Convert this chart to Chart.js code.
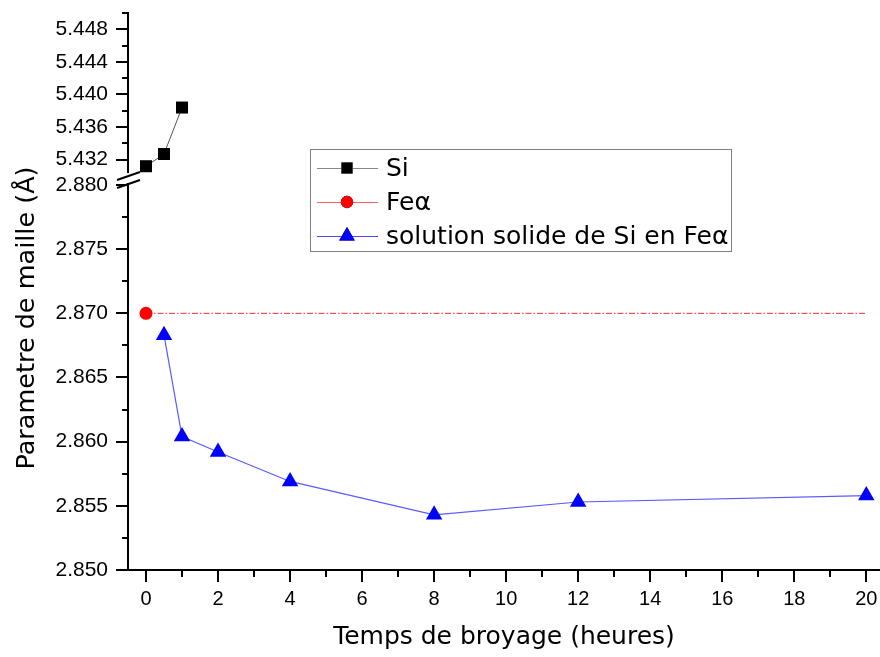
<!DOCTYPE html>
<html>
<head>
<meta charset="utf-8">
<script src="https://cdn.jsdelivr.net/npm/chart.js@4"></script>
<style>
  body { margin: 0; background: #fff; }
</style>
</head>
<body>
<canvas id="myChart" width="880" height="657"></canvas>
<script>
// temps de broyage (heures) et parametre de maille (A)
const siTime = [0, 0.5, 1];
const siParam = [5.4312, 5.4327, 5.4384];
const feTime = [0];
const feParam = [2.870];
const solTime = [0.5, 1, 2, 4, 8, 12, 20];
const solParam = [2.8683, 2.8604, 2.8592, 2.8569, 2.8543, 2.8553, 2.8558];
const refTime = [0, 20];
const refParam = [2.870, 2.870];

// ticks
const xTicks = [0, 2, 4, 6, 8, 10, 12, 14, 16, 18, 20];
const xMinor = [1, 3, 5, 7, 9, 11, 13, 15, 17, 19];
const yTopTicks = [5.432, 5.436, 5.440, 5.444, 5.448];
const yTopMinor = [5.434, 5.438, 5.442, 5.446, 5.450];
const yBotTicks = [2.850, 2.855, 2.860, 2.865, 2.870, 2.875, 2.880];
const yBotMinor = [2.8525, 2.8575, 2.8625, 2.8675, 2.8725, 2.8775];

const legendLabels = ['Si', 'Fe\u03b1', 'solution solide de Si en Fe\u03b1'];

const pts = (xs, ys) => xs.map((x, i) => ({x: x, y: ys[i]}));

// setup
const data = {
  datasets: [
    {
      label: legendLabels[0],
      data: pts(siTime, siParam),
      yAxisID: 'yTop',
      borderColor: '#555',
      borderWidth: 1,
      pointStyle: 'rect',
      pointRadius: 8.5,
      pointBackgroundColor: '#000',
      pointBorderWidth: 0,
      clip: false
    },
    {
      label: legendLabels[1],
      data: pts(feTime, feParam),
      yAxisID: 'yBot',
      borderColor: '#ff3030',
      pointStyle: 'circle',
      pointRadius: 6.5,
      pointBackgroundColor: '#ff0000',
      pointBorderWidth: 0,
      clip: false
    },
    {
      label: legendLabels[2],
      data: pts(solTime, solParam),
      yAxisID: 'yBot',
      borderColor: '#5a5aff',
      borderWidth: 1.2,
      pointStyle: 'triangle',
      pointRadius: 9.5,
      pointBackgroundColor: '#0000ff',
      pointBorderWidth: 0,
      clip: false
    },
    {
      label: 'ref',
      data: pts(refTime, refParam),
      yAxisID: 'yBot',
      borderColor: 'rgb(235,45,45)',
      borderWidth: 1,
      borderDash: [6, 2, 1.5, 2],
      pointRadius: 0,
      clip: false
    }
  ]
};

const tickFontY = {family: 'Liberation Sans', size: 21};
const tickFontX = {family: 'Liberation Sans', size: 20};

const noPad = (s) => { s.paddingLeft = 0; s.paddingRight = 0; s.paddingTop = 0; s.paddingBottom = 0; };

// draw tick marks, axis break, y title and legend box
const decorations = {
  id: 'decorations',
  afterDraw(chart) {
    const ctx = chart.ctx;
    const sx = chart.scales.x, st = chart.scales.yTop, sb = chart.scales.yBot;
    const ax = sx.top, ay = st.right;
    ctx.save();
    ctx.strokeStyle = '#000';
    ctx.lineWidth = 2;
    const tick = (x1, y1, x2, y2) => { ctx.beginPath(); ctx.moveTo(x1, y1); ctx.lineTo(x2, y2); ctx.stroke(); };
    xTicks.forEach(v => { const p = Math.round(sx.getPixelForValue(v)); tick(p, ax, p, ax + 12); });
    xMinor.forEach(v => { const p = Math.round(sx.getPixelForValue(v)); tick(p, ax, p, ax + 7); });
    yTopTicks.forEach(v => { const p = Math.round(st.getPixelForValue(v)); tick(ay, p, ay - 12, p); });
    yTopMinor.forEach(v => { const p = Math.round(st.getPixelForValue(v)); tick(ay, p, ay - 6, p); });
    yBotTicks.forEach(v => { const p = Math.round(sb.getPixelForValue(v)); tick(ay, p, ay - 12, p); });
    yBotMinor.forEach(v => { const p = Math.round(sb.getPixelForValue(v)); tick(ay, p, ay - 6, p); });

    // axis break
    const by = st.bottom;
    ctx.fillStyle = '#fff';
    ctx.fillRect(ay - 4, by - 3, 8, 10);
    ctx.lineWidth = 2;
    tick(ay - 11, by + 4, ay + 12, by - 4);
    tick(ay - 11, by + 12, ay + 12, by + 4);

    // y title
    ctx.fillStyle = '#000';
    ctx.font = '25.5px "DejaVu Sans"';
    ctx.textAlign = 'center';
    ctx.textBaseline = 'middle';
    ctx.translate(27, 318);
    ctx.rotate(-Math.PI / 2);
    ctx.fillText('Parametre de maille (\u00c5)', 0, 0);
    ctx.restore();

    // legend
    ctx.save();
    ctx.fillStyle = '#fff';
    ctx.fillRect(310, 149, 422, 103);
    ctx.strokeStyle = '#808080';
    ctx.lineWidth = 1;
    ctx.strokeRect(310.5, 149.5, 421, 102);
    const rows = [168, 202, 236];
    const lineCols = ['#888', '#ff6060', '#4848ff'];
    chart.data.datasets.slice(0, 3).forEach((ds, i) => {
      const y = rows[i];
      ctx.strokeStyle = lineCols[i];
      ctx.lineWidth = 1;
      ctx.beginPath(); ctx.moveTo(317, y + 0.5); ctx.lineTo(378, y + 0.5); ctx.stroke();
      Chart.helpers.drawPoint(ctx, {pointStyle: ds.pointStyle, radius: ds.pointRadius * 0.95, borderWidth: 0, rotation: 0},
        347, y);
      ctx.fillStyle = ds.pointBackgroundColor;
      ctx.fill();
      ctx.fillStyle = '#000';
      ctx.font = '25px "DejaVu Sans"';
      ctx.textAlign = 'left';
      ctx.textBaseline = 'middle';
      ctx.fillText(legendLabels[i], 386, y + 1);
    });
    ctx.restore();
  }
};

// config
const config = {
  type: 'line',
  data,
  options: {
    responsive: false,
    animation: false,
    layout: { autoPadding: false, padding: { top: 13, left: 0, right: 0, bottom: 0 } },
    elements: { line: { tension: 0 } },
    scales: {
      x: {
        type: 'linear',
        position: 'bottom',
        min: -0.5,
        max: 20.38,
        grid: { display: false, drawTicks: false },
        border: { display: true, color: '#000', width: 2 },
        afterBuildTicks: s => { s.ticks = xTicks.map(v => ({value: v})); },
        afterFit: s => { noPad(s); s.height = 87; },
        ticks: { font: tickFontX, color: '#000', padding: 17, maxRotation: 0, autoSkip: false },
        title: {
          display: true,
          text: 'Temps de broyage (heures)',
          font: {family: 'DejaVu Sans', size: 25},
          color: '#000',
          padding: { top: 0, bottom: 5 }
        }
      },
      yTop: {
        type: 'linear',
        position: 'left',
        stack: 'y',
        stackWeight: 163,
        weight: 2,
        min: 5.430,
        max: 5.450,
        grid: { display: false, drawTicks: false },
        border: { display: true, color: '#000', width: 2 },
        afterBuildTicks: s => { s.ticks = yTopTicks.map(v => ({value: v})); },
        afterFit: s => { noPad(s); s.width = 128; },
        ticks: { font: tickFontY, color: '#000', padding: 20, autoSkip: false, callback: v => v.toFixed(3) }
      },
      yBot: {
        type: 'linear',
        position: 'left',
        stack: 'y',
        stackWeight: 394,
        weight: 1,
        min: 2.850,
        max: 2.8807,
        grid: { display: false, drawTicks: false },
        border: { display: true, color: '#000', width: 2 },
        afterBuildTicks: s => { s.ticks = yBotTicks.map(v => ({value: v})); },
        afterFit: s => { noPad(s); s.width = 128; },
        ticks: { font: tickFontY, color: '#000', padding: 20, autoSkip: false, callback: v => v.toFixed(3) }
      }
    },
    plugins: {
      legend: { display: false },
      tooltip: { enabled: false }
    }
  },
  plugins: [decorations]
};

// render init block
const myChart = new Chart(document.getElementById('myChart'), config);
</script>
</body>
</html>
